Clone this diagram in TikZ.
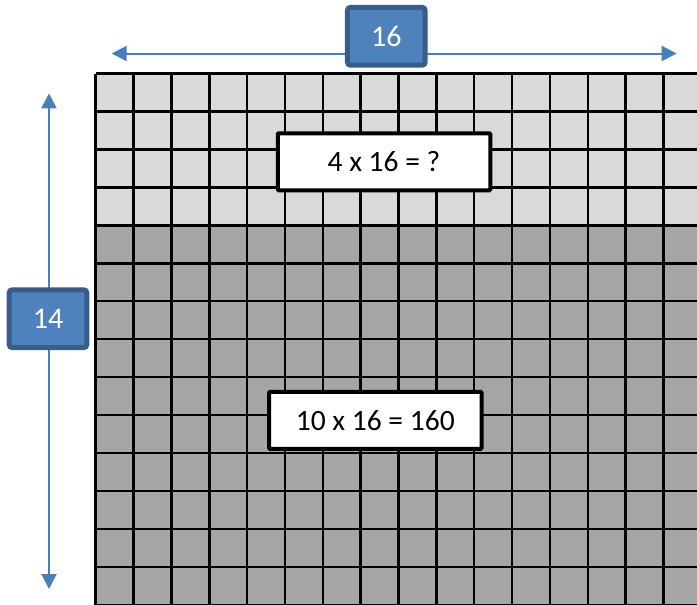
\documentclass[tikz,border=0pt]{standalone}
\usepackage{fontspec}
\setmainfont{Carlito}
\usetikzlibrary{arrows.meta}
\definecolor{lightcell}{HTML}{D9D9D9}
\definecolor{darkcell}{HTML}{A6A6A6}
\definecolor{dimblue}{HTML}{4A7EBB}
\definecolor{boxfill}{HTML}{4F81BD}
\definecolor{boxedge}{HTML}{385D8A}
\tikzset{
  gridline/.style={line width=2.5pt, black},
  dimarrow/.style={line width=2pt, dimblue, {Triangle[length=15pt,width=15pt]}-{Triangle[length=15pt,width=15pt]}},
  dimbox/.style={draw=boxedge, fill=boxfill, line width=5pt, rounded corners=3pt,
    minimum width=77.7pt, minimum height=57.7pt, inner sep=0pt, text=white,
    font=\fontsize{30}{33}\selectfont},
  eqbox/.style={draw=black, fill=white, line width=4pt, rounded corners=1pt,
    minimum width=212.5pt, minimum height=57pt, inner sep=0pt, text=black,
    font=\fontsize{29.5}{33}\selectfont}
}
\begin{document}
\begin{tikzpicture}[x=1pt,y=-1pt]
\useasboundingbox (0,0) rectangle (697,605);
\clip (0,0) rectangle (697,605);
% cells
\fill[lightcell] (95.7,73.5) rectangle (702,225.3);
\fill[darkcell] (95.7,225.3) rectangle (702,606);
% grid lines
\foreach \i in {0,...,16} {
  \draw[gridline] ({95.7+37.85*\i},73.5) -- ({95.7+37.85*\i},606);
}
\foreach \j in {0,...,14} {
  \draw[gridline] (95.7,{73.5+37.95*\j}) -- (702,{73.5+37.95*\j});
}
% dimension arrows
\coordinate (tl) at (111.7,53.5);
\coordinate (tr) at (676.7,53.5);
\coordinate (lt) at (49,93.3);
\coordinate (lb) at (49,589);
\draw[dimarrow] (tl) -- (tr);
\draw[dimarrow] (lt) -- (lb);
% labels
\node[dimbox] (top) at (386.3,36.3) {16};
\node[dimbox] (left) at (48,318.7) {14};
\node[eqbox] (eqa) at (384,161.8) {4 x 16 = ?};
\node[eqbox] (eqb) at (375.3,420.3) {10 x 16 = 160};
\end{tikzpicture}
\end{document}
